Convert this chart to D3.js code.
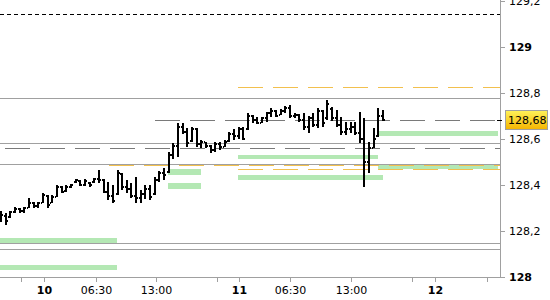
<!DOCTYPE html>
<html><head><meta charset="utf-8">
<script src="https://cdn.jsdelivr.net/npm/d3@7/dist/d3.min.js"></script>
<style>
body{margin:0;background:#fff}
svg{display:block}
text{font-family:"DejaVu Sans",sans-serif;font-size:11px;fill:#000}
</style></head>
<body><svg id="c" width="550" height="300"></svg>
<script>
// ---- data ----
const highs=[128.285,128.277,128.285,128.303,128.298,128.303,128.342,128.324,128.324,128.363,
128.355,128.355,128.398,128.394,128.398,128.403,128.424,128.420,128.424,128.411,
128.429,128.464,128.424,128.411,128.398,128.464,128.451,128.420,128.407,128.433,
128.377,128.398,128.398,128.433,128.459,128.472,128.542,128.581,128.668,128.668,
128.646,128.651,128.646,128.594,128.586,128.572,128.586,128.586,128.594,128.629,
128.642,128.651,128.651,128.712,128.703,128.694,128.694,128.716,128.733,128.725,
128.729,128.742,128.746,128.712,128.707,128.712,128.699,128.712,128.733,128.725,
128.768,128.738,128.725,128.694,128.672,128.672,128.672,128.716,128.690,128.586,
128.646,128.733,128.725];
const lows=[128.237,128.224,128.255,128.277,128.277,128.277,128.298,128.298,128.298,128.320,
128.298,128.320,128.346,128.363,128.368,128.385,128.407,128.394,128.394,128.390,
128.407,128.407,128.363,128.333,128.320,128.355,128.377,128.363,128.342,128.320,
128.320,128.337,128.333,128.355,128.411,128.420,128.451,128.512,128.520,128.620,
128.564,128.586,128.564,128.559,128.559,128.538,128.542,128.551,128.564,128.586,
128.594,128.599,128.594,128.638,128.668,128.664,128.668,128.672,128.694,128.694,
128.703,128.712,128.690,128.690,128.672,128.638,128.625,128.651,128.646,128.651,
128.681,128.677,128.651,128.616,128.616,128.625,128.616,128.581,128.390,128.451,
128.559,128.607,128.677];
const opens=[128.250,128.265,128.260,128.280,128.292,128.285,128.300,128.320,128.305,128.322,
128.350,128.322,128.348,128.388,128.372,128.390,128.410,128.418,128.400,128.408,
128.410,128.425,128.420,128.370,128.350,128.360,128.445,128.390,128.380,128.350,
128.340,128.360,128.380,128.360,128.420,128.450,128.455,128.530,128.570,128.650,
128.630,128.590,128.640,128.575,128.585,128.570,128.550,128.575,128.565,128.590,
128.620,128.610,128.640,128.640,128.700,128.680,128.670,128.690,128.710,128.720,
128.705,128.720,128.735,128.700,128.705,128.680,128.650,128.690,128.660,128.720,
128.690,128.730,128.690,128.660,128.630,128.640,128.650,128.625,128.600,128.500,
128.560,128.610,128.700];
const closes=[128.270,128.240,128.280,128.295,128.285,128.300,128.320,128.305,128.320,128.355,
128.310,128.345,128.390,128.370,128.390,128.398,128.420,128.400,128.415,128.400,
128.425,128.420,128.370,128.350,128.330,128.450,128.390,128.380,128.350,128.340,
128.360,128.380,128.345,128.420,128.450,128.440,128.530,128.570,128.650,128.630,
128.580,128.640,128.575,128.585,128.570,128.550,128.575,128.565,128.585,128.620,
128.610,128.640,128.600,128.700,128.680,128.670,128.690,128.710,128.720,128.700,
128.720,128.735,128.700,128.705,128.680,128.650,128.690,128.660,128.720,128.670,
128.750,128.690,128.660,128.630,128.640,128.650,128.625,128.600,128.500,128.560,
128.600,128.700,128.681];

const yTicks=[128,128.2,128.4,128.6,128.8,129,129.2];
const xTickPos=[9.23,20.39,33.26,51.07,62.02,75.11,93.13];
const xTickLabels=["10","06:30","13:00","11","06:30","13:00","12"];
const xTickBold=[true,false,false,true,false,false,true];
const xMinorPos=[4.29,46.35,88.2,104.29];

// horizontal levels: value, start index, kind
const levelValues=[129.141,128.825,128.775,128.681,128.580,128.558,128.488,128.484,128.467,128.145,128.119];
const levelStart=[-0.3,50.86,-0.3,33.05,-0.3,-0.3,-0.3,23.18,50.86,-0.3,-0.3];
const levelKind=["black","orange","gray","grayDash","gray","grayDash2","gray","orange","orange","gray","gray"];

// green zones: index range and price range
const zoneStart=[-0.3,-0.3,35.84,35.84,50.86,50.86,80.9,80.9];
const zoneEnd=[24.9,24.9,42.92,42.92,80.9,81.97,106.7,106.7];
const zoneTop=[128.167,128.050,128.468,128.407,128.529,128.442,128.633,128.485];
const zoneBottom=[128.146,128.029,128.442,128.381,128.512,128.420,128.612,128.468];

const lastPrice=128.68;

// ---- chart ----
const svg=d3.select("#c");
const plotR=500, plotB=277.5;
const x=d3.scaleLinear().domain([0,100]).range([1,467]);
const y=d3.scaleLinear().domain([128,129]).range([276.6,46.7]);

const defs=svg.append("defs");
defs.append("clipPath").attr("id","clip").append("rect").attr("x",0).attr("y",0).attr("width",plotR).attr("height",plotB);
const gr=defs.append("linearGradient").attr("id","gold").attr("x1",0).attr("y1",0).attr("x2",0).attr("y2",1);
gr.append("stop").attr("offset","0%").attr("stop-color","#fff25a");
gr.append("stop").attr("offset","100%").attr("stop-color","#f4b400");

const plot=svg.append("g").attr("clip-path","url(#clip)");

// zones
plot.selectAll("rect.zone").data(zoneStart.map((s,i)=>i)).join("rect")
 .attr("class","zone")
 .attr("x",i=>Math.round(x(zoneStart[i])))
 .attr("width",i=>Math.round(x(zoneEnd[i]))-Math.round(x(zoneStart[i])))
 .attr("y",i=>Math.round(y(zoneTop[i])))
 .attr("height",i=>Math.max(1,Math.round(y(zoneBottom[i]))-Math.round(y(zoneTop[i]))))
 .attr("fill","#b4e8b4").attr("shape-rendering","crispEdges");

// levels
const kindStyle={
 black:{c:"#000",d:"4,3",o:0},
 orange:{c:"#f2c04e",d:"25,10",o:0},
 gray:{c:"#a0a0a0",d:null,o:0},
 grayDash:{c:"#7a7a7a",d:"25,10",o:0},
 grayDash2:{c:"#7a7a7a",d:"25,10",o:30}
};
plot.selectAll("line.lvl").data(levelValues.map((v,i)=>i)).join("line")
 .attr("class","lvl")
 .attr("x1",i=>Math.round(x(levelStart[i]))).attr("x2",plotR)
 .attr("y1",i=>Math.round(y(levelValues[i]))+0.5).attr("y2",i=>Math.round(y(levelValues[i]))+0.5)
 .attr("stroke",i=>kindStyle[levelKind[i]].c)
 .attr("stroke-dasharray",i=>kindStyle[levelKind[i]].d)
 .attr("stroke-dashoffset",i=>kindStyle[levelKind[i]].o)
 .attr("stroke-width",1).attr("shape-rendering","crispEdges");

// OHLC bars
const idx=highs.map((h,i)=>i);
const bars=plot.append("g").attr("fill","#000").attr("shape-rendering","crispEdges");
idx.forEach(i=>{
  const cx=Math.round(x(i));
  const yh=Math.round(y(highs[i])), yl=Math.round(y(lows[i]));
  bars.append("rect").attr("x",cx-1).attr("width",2).attr("y",yh).attr("height",Math.max(1,yl-yh));
  bars.append("rect").attr("x",cx-2).attr("width",1).attr("y",Math.round(y(opens[i]))-1).attr("height",2);
  bars.append("rect").attr("x",cx+1).attr("width",1).attr("y",Math.round(y(closes[i]))-1).attr("height",2);
});

// frame / axes
svg.append("line").attr("x1",plotR+0.5).attr("x2",plotR+0.5).attr("y1",0).attr("y2",plotB)
 .attr("stroke","#a0a0a0").attr("shape-rendering","crispEdges");
svg.append("line").attr("x1",0).attr("x2",plotR).attr("y1",plotB).attr("y2",plotB)
 .attr("stroke","#a0a0a0").attr("shape-rendering","crispEdges");

// y axis ticks & labels
const fmt=v=>(Number.isInteger(+v.toFixed(6))?String(Math.round(v)):v.toFixed(1).replace(".",","));
const yt=svg.append("g");
yTicks.forEach(v=>{
  const yy=Math.round(y(v))+0.5;
  yt.append("line").attr("x1",plotR).attr("x2",plotR+5).attr("y1",yy).attr("y2",yy)
    .attr("stroke","#a0a0a0").attr("shape-rendering","crispEdges");
  yt.append("text").attr("x",509).attr("y",yy).attr("dy","0.36em")
    .style("font-weight",Number.isInteger(+v.toFixed(6))?"bold":"normal").text(fmt(v));
});

// x axis ticks & labels
const xt=svg.append("g");
xTickPos.forEach((p,i)=>{
  const xx=Math.round(x(p))+0.5;
  xt.append("line").attr("x1",xx).attr("x2",xx).attr("y1",plotB).attr("y2",plotB+4.5)
    .attr("stroke","#a0a0a0").attr("shape-rendering","crispEdges");
  xt.append("text").attr("x",xx).attr("y",294).attr("text-anchor","middle")
    .style("font-weight",xTickBold[i]?"bold":"normal").text(xTickLabels[i]);
});
xMinorPos.forEach(p=>{
  const xx=Math.round(x(p))+0.5;
  xt.append("line").attr("x1",xx).attr("x2",xx).attr("y1",plotB).attr("y2",plotB+4.5)
    .attr("stroke","#a0a0a0").attr("shape-rendering","crispEdges");
});

// last price marker
const ly=Math.round(y(lastPrice));
svg.append("line").attr("x1",497).attr("x2",502).attr("y1",ly+0.5).attr("y2",ly+0.5)
 .attr("stroke","#000").attr("shape-rendering","crispEdges");
svg.append("rect").attr("x",505.5).attr("y",ly-9.5).attr("width",42).attr("height",19)
 .attr("fill","url(#gold)").attr("stroke","#a0a0a0");
svg.append("text").attr("x",508).attr("y",ly).attr("dy","0.36em").text(lastPrice.toFixed(2).replace(".",","));
</script>
</body></html>
